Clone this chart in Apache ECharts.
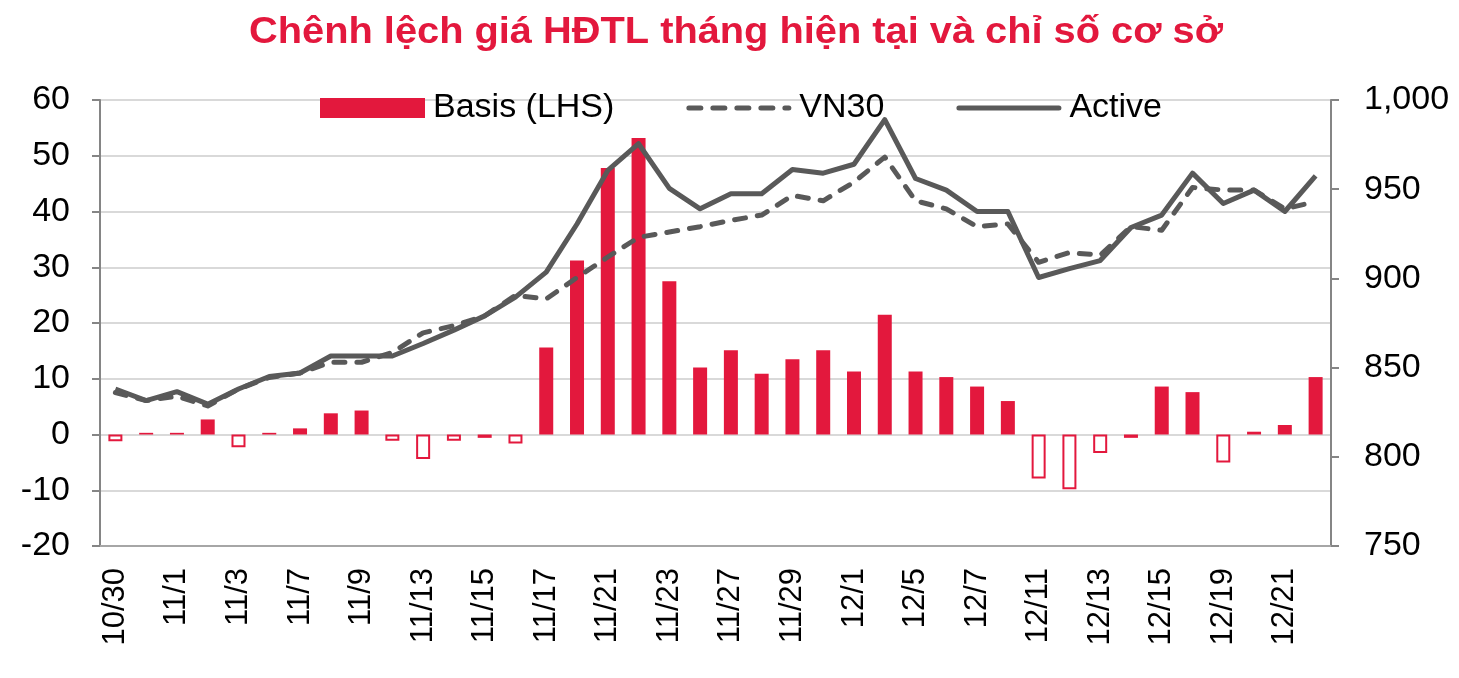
<!DOCTYPE html>
<html>
<head>
<meta charset="utf-8">
<script src="https://cdn.jsdelivr.net/npm/echarts@6/dist/echarts.min.js"></script>
<style>
html,body{margin:0;padding:0;background:#fff;}
#chart{width:1459px;height:678px;}
</style>
</head>
<body>
<div id="chart"></div>
<script>
const categories = ['10/30','10/31','11/1','11/2','11/3','11/6','11/7','11/8','11/9','11/10',
  '11/13','11/14','11/15','11/16','11/17','11/20','11/21','11/22','11/23','11/24',
  '11/27','11/28','11/29','11/30','12/1','12/4','12/5','12/6','12/7','12/8',
  '12/11','12/12','12/13','12/14','12/15','12/18','12/19','12/20','12/21','12/22'];
const basis = [-1.2,0.3,0.3,2.7,-2.3,0.3,1.1,3.8,4.3,-1.1,
  -4.4,-1.1,-0.6,-1.6,15.6,31.2,47.8,53.2,27.5,12.0,
  15.1,10.9,13.5,15.1,11.3,21.5,11.3,10.3,8.6,6.0,
  -7.9,-9.8,-3.3,-0.6,8.6,7.6,-5.0,0.5,1.7,10.3];
const vn30 = [836,831.5,834,828.5,838,844.5,847,853,853,858.5,
  869.5,873.5,879,890.5,888.5,900.5,912,923,926,929,
  932.5,935.5,946.5,943.5,954,968,943.5,939,929,930.5,
  909,914.5,913,929,927,951,949.5,949.5,939,943];
const active = [838,831.5,836.5,829.5,838,845,847,856.5,856.5,856.5,
  863.5,871,879,889.5,903.5,930.5,960.5,975.5,950.5,939,
  947.5,947.5,961,959,964,989,956,949.5,937.5,937.5,
  900.5,905.5,910,928.5,935.5,959,942,949.5,937.5,957.5];
const leftTicks = {min:-20, max:60, interval:10};
const rightTicks = {min:750, max:1000, interval:50};
const titleText = 'Chênh lệch giá HĐTL tháng hiện tại và chỉ số cơ sở';

const RED = '#e3183d';
const GREY = '#595959';
const FONT = '"Liberation Sans", Arial, sans-serif';

const chart = echarts.init(document.getElementById('chart'), null, {renderer:'canvas'});
chart.setOption({
  animation:false,
  backgroundColor:'#fff',
  graphic:[{
    type:'text', x:736, y:15, scaleX:1.105, scaleY:1,
    style:{text:titleText, x:0, y:0, align:'center', verticalAlign:'top',
      font:'bold 36px "Liberation Sans", Arial, sans-serif', fill:RED}
  }],
  legend:{
    left:315, top:86,
    itemWidth:105, itemHeight:20, itemGap:72,
    textStyle:{fontFamily:FONT, fontSize:34, color:'#000', padding:[0,0,0,3]},
    data:[
      {name:'Basis (LHS)', icon:'rect', itemStyle:{color:RED, borderWidth:0}},
      {name:'VN30', icon:'path://M2.5,0h12a2.5,2.5 0 0 1 0,5h-12a2.5,2.5 0 0 1 0,-5z M26.5,0h12a2.5,2.5 0 0 1 0,5h-12a2.5,2.5 0 0 1 0,-5z M50.5,0h12a2.5,2.5 0 0 1 0,5h-12a2.5,2.5 0 0 1 0,-5z M74.5,0h12a2.5,2.5 0 0 1 0,5h-12a2.5,2.5 0 0 1 0,-5z M98.5,0h4a2.5,2.5 0 0 1 0,5h-4a2.5,2.5 0 0 1 0,-5z',
       itemStyle:{color:GREY, borderWidth:0}},
      {name:'Active', icon:'path://M2.5,0h100a2.5,2.5 0 0 1 0,5h-100a2.5,2.5 0 0 1 0,-5z',
       itemStyle:{color:GREY, borderWidth:0}}
    ]
  },
  grid:{left:100, right:128, top:100, bottom:132, containLabel:false},
  xAxis:{
    type:'category', data:categories, boundaryGap:true,
    axisLine:{onZero:false, lineStyle:{color:'#a6a6a6', width:2}},
    axisTick:{show:false},
    axisLabel:{rotate:90, interval:1, margin:22, fontFamily:FONT, fontSize:31, color:'#000'}
  },
  yAxis:[
    {type:'value', min:leftTicks.min, max:leftTicks.max, interval:leftTicks.interval,
     axisLine:{show:true, lineStyle:{color:'#858585', width:2}},
     axisTick:{show:true, length:8, lineStyle:{color:'#858585', width:2}},
     axisLabel:{margin:30, fontFamily:FONT, fontSize:34, color:'#000'},
     splitLine:{show:true, lineStyle:{color:'#d9d9d9', width:2}}},
    {type:'value', min:rightTicks.min, max:rightTicks.max, interval:rightTicks.interval,
     position:'right',
     axisLine:{show:true, lineStyle:{color:'#858585', width:2}},
     axisTick:{show:true, length:8, lineStyle:{color:'#858585', width:2}},
     axisLabel:{margin:33, fontFamily:FONT, fontSize:34, color:'#000',
       formatter:v=>v.toLocaleString('en-US')},
     splitLine:{show:false}}
  ],
  series:[
    {name:'Basis (LHS)', type:'bar', yAxisIndex:0, barWidth:14,
     data:basis.map(v=> v<0 ? {value:v, itemStyle:{color:'#fff', borderColor:RED, borderWidth:2}} : {value:v, itemStyle:{color:RED}}),
     itemStyle:{color:RED}},
    {name:'VN30', type:'line', yAxisIndex:1, data:vn30, symbol:'none',
     lineStyle:{color:GREY, width:5, type:[11,12], cap:'round', join:'round'}, itemStyle:{color:GREY}},
    {name:'Active', type:'line', yAxisIndex:1, data:active, symbol:'none',
     lineStyle:{color:GREY, width:5, join:'round'}, itemStyle:{color:GREY}}
  ]
});
</script>
</body>
</html>
